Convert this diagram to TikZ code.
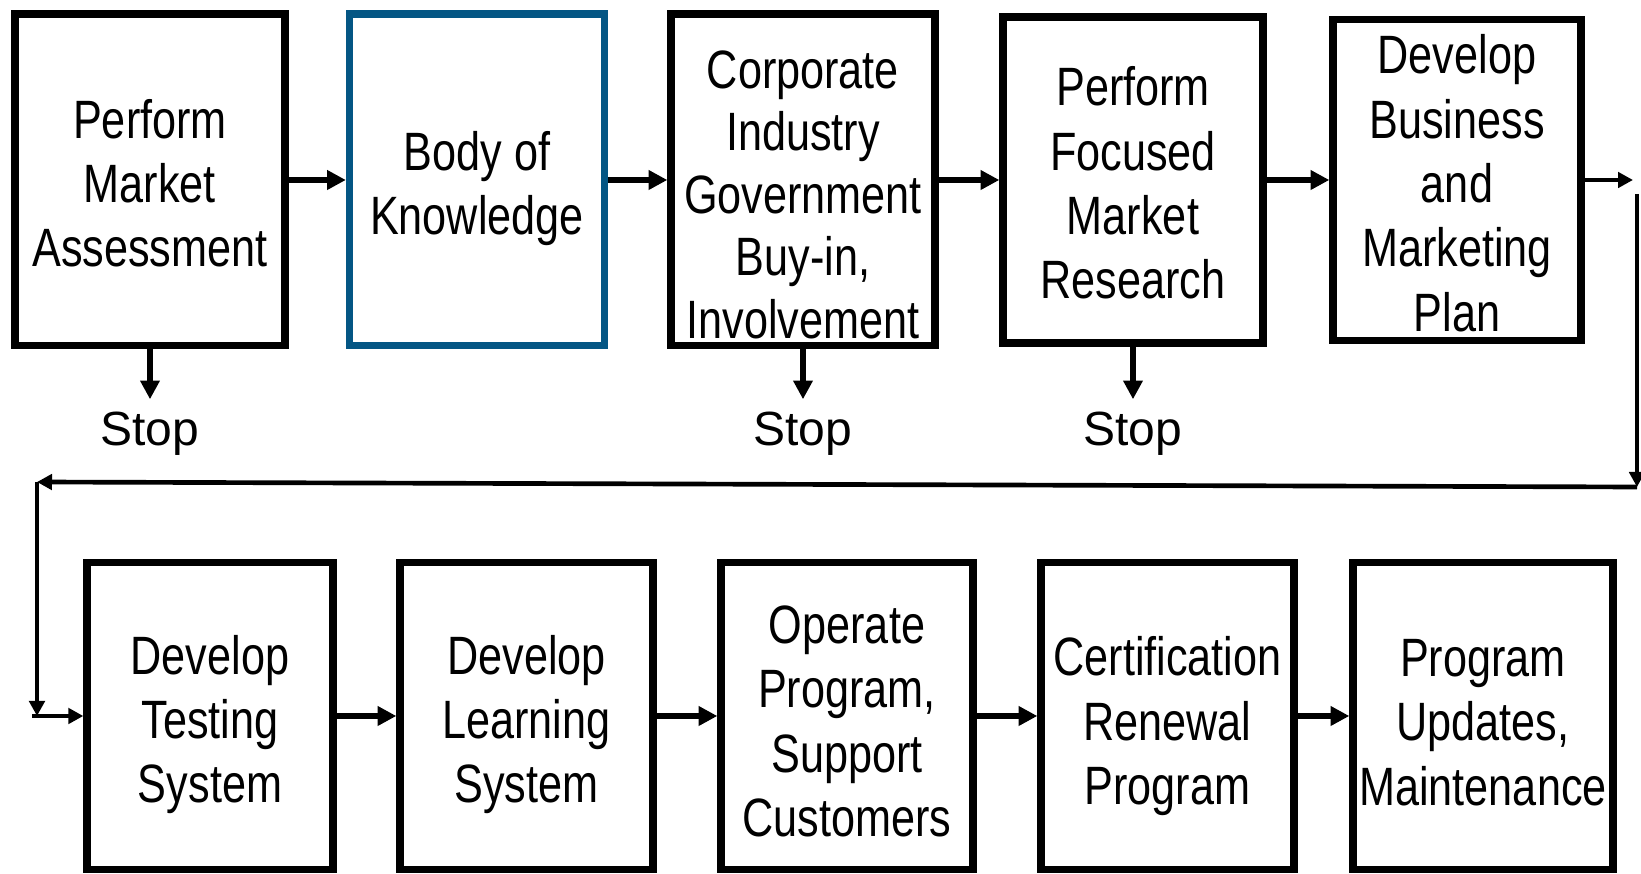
\documentclass[tikz,border=0pt]{standalone}
\usepackage{fontspec}
\setmainfont{Liberation Sans}
\newfontfamily\narrowfont[FakeStretch=0.8]{Liberation Sans}
\usetikzlibrary{arrows.meta}
\definecolor{bok_blue}{RGB}{4, 86, 132}
\newcommand{\lift}[1]{\rule{0pt}{#1}}
\tikzstyle{stage}=[rectangle,draw=black,line width=2.2pt,inner sep=0pt,text depth=0pt,
  align=center,font=\narrowfont\fontsize{16.2pt}{19.3pt}\selectfont]
\tikzstyle{stop}=[inner sep=0pt,outer sep=3.9pt,font=\fontsize{14.4pt}{17pt}\selectfont]
\tikzstyle{flow}=[line width=1.8pt,-{Triangle[length=5.6pt,width=5.6pt]}]
\tikzstyle{loop}=[line width=1.4pt,-{Triangle[length=4.5pt,width=4.6pt]}]

\begin{document}
\begin{tikzpicture}[x=0.3pt,y=-0.3pt]
            \useasboundingbox (0,0) rectangle (1641,874);
            % top row
            \node [style=stage,minimum width=81pt,minimum height=99.5pt] (b1) at (150, 180) {\lift{13.5pt}Perform\\Market\\Assessment};
            \node [style=stage,draw=bok_blue,minimum width=76.5pt,minimum height=99.5pt] (b2) at (477, 180) {\lift{13.5pt}Body of\\Knowledge};
            \node [style=stage,minimum width=79.2pt,minimum height=99.5pt,
              font=\narrowfont\fontsize{16.2pt}{18.75pt}\selectfont] (b3) at (803, 180) {\lift{20pt}Corporate\\Industry\\Government\\Buy-in,\\Involvement};
            \node [style=stage,minimum width=78pt,minimum height=97.8pt] (b4) at (1133, 180) {\lift{13.5pt}Perform\\Focused\\Market\\Research};
            \node [style=stage,minimum width=74.4pt,minimum height=96.3pt] (b5) at (1457, 180) {\lift{13.5pt}Develop\\Business\\and\\Marketing\\Plan};
            \node [style=stop] (s1) at (150, 434) {Stop};
            \node [style=stop] (s3) at (803, 434) {Stop};
            \node [style=stop] (s4) at (1133, 434) {Stop};
            % bottom row
            \node [style=stage,minimum width=73.8pt,minimum height=92.1pt] (b6) at (210, 716) {\lift{13.5pt}Develop\\Testing\\System};
            \node [style=stage,minimum width=75.9pt,minimum height=92.1pt] (b7) at (526.5, 716) {\lift{13.5pt}Develop\\Learning\\System};
            \node [style=stage,minimum width=75.6pt,minimum height=92.1pt] (b8) at (847, 716) {\lift{14.5pt}Operate\\Program,\\Support\\Customers};
            \node [style=stage,minimum width=75.9pt,minimum height=92.1pt] (b9) at (1167.5, 716) {\lift{14.5pt}Certification\\Renewal\\Program};
            \node [style=stage,minimum width=78pt,minimum height=92.1pt] (b10) at (1483, 716) {\lift{15pt}Program\\Updates,\\Maintenance};
            % return path
            \coordinate (r1) at (1633, 180);
            \coordinate (r2) at (1637, 194);
            \coordinate (r3) at (1637, 487);
            \coordinate (l1) at (37, 482);
            \coordinate (l2) at (37, 716);
            \coordinate (l3) at (32, 716);
            \draw [style=flow] (b1) to (b2);
            \draw [style=flow] (b2) to (b3);
            \draw [style=flow] (b3) to (b4);
            \draw [style=flow] (b4) to (b5);
            \draw [style=loop] (b5) to (r1);
            \draw [style=flow] (b1) to (s1);
            \draw [style=flow] (b3) to (s3);
            \draw [style=flow] (b4) to (s4);
            \draw [style=loop] (r2) to (r3);
            \draw [style=loop] (r3) to (l1);
            \draw [style=loop] (l1) to (l2);
            \draw [style=loop] (l3) to (b6);
            \draw [style=flow] (b6) to (b7);
            \draw [style=flow] (b7) to (b8);
            \draw [style=flow] (b8) to (b9);
            \draw [style=flow] (b9) to (b10);
    \end{tikzpicture}
\end{document}
